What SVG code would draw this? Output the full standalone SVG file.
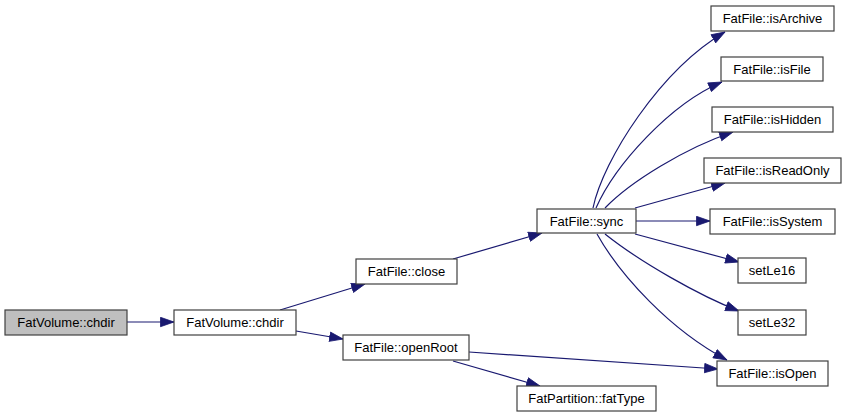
<svg xmlns="http://www.w3.org/2000/svg" width="847" height="417" viewBox="0 0 847 417">
<defs>
<style>
.n rect{fill:#fff;stroke:#404040;stroke-width:1.2}
.n.cur rect{fill:#bfbfbf}
.n text{font-family:"Liberation Sans",Arial,sans-serif;font-size:13px;fill:#000;text-anchor:middle}
.e path{fill:none;stroke:#191970;stroke-width:1.2;marker-end:url(#ah)}
</style>
<marker id="ah" markerUnits="userSpaceOnUse" markerWidth="15" markerHeight="11" refX="14" refY="5.5" orient="auto" viewBox="0 0 15 11">
<polygon points="0.5,0.8 14,5.5 0.5,10.2" fill="#191970" stroke="#191970" stroke-width="0.8"/>
</marker>
</defs>
<rect width="847" height="417" fill="#fff"/>
<g id="edges" class="e">
<path d="M127,322 L174,322"/>
<path d="M280,310 L365,284"/>
<path d="M296,331 L343,339"/>
<path d="M453,259 L542,233"/>
<path d="M469,352 L718,369"/>
<path d="M453,361 L540,386"/>
<path d="M593,208 C603,160 660,70 725,32"/>
<path d="M596,208 C615,165 670,104 722,82"/>
<path d="M605,208 C630,182 685,148 733,132"/>
<path d="M635,208 L725,183"/>
<path d="M636,221 L710,221"/>
<path d="M635,234 L739,262"/>
<path d="M605,234 C640,262 700,296 739,311"/>
<path d="M597,234 C620,275 670,330 727,360"/>
</g>
<g id="n_src" class="n cur"><rect x="5" y="310" width="122" height="25"/><text x="66" y="327">FatVolume::chdir</text></g>
<g id="n_chdir" class="n"><rect x="174" y="310" width="122" height="25"/><text x="235" y="327">FatVolume::chdir</text></g>
<g id="n_close" class="n"><rect x="356" y="259" width="101" height="25"/><text x="406.5" y="276">FatFile::close</text></g>
<g id="n_openRoot" class="n"><rect x="343" y="335" width="126" height="25"/><text x="406" y="352">FatFile::openRoot</text></g>
<g id="n_sync" class="n"><rect x="537" y="209" width="99" height="24"/><text x="586.5" y="226">FatFile::sync</text></g>
<g id="n_fatType" class="n"><rect x="517" y="386" width="139" height="25"/><text x="586.5" y="403">FatPartition::fatType</text></g>
<g id="n_isArchive" class="n"><rect x="711" y="6" width="123" height="25"/><text x="772.5" y="23">FatFile::isArchive</text></g>
<g id="n_isFile" class="n"><rect x="721" y="57" width="102" height="24"/><text x="772" y="74">FatFile::isFile</text></g>
<g id="n_isHidden" class="n"><rect x="712" y="107" width="121" height="25"/><text x="772.5" y="124">FatFile::isHidden</text></g>
<g id="n_isReadOnly" class="n"><rect x="704" y="158" width="137" height="25"/><text x="772.5" y="175">FatFile::isReadOnly</text></g>
<g id="n_isSystem" class="n"><rect x="710" y="209" width="125" height="25"/><text x="772.5" y="226">FatFile::isSystem</text></g>
<g id="n_setLe16" class="n"><rect x="738" y="258" width="68" height="25"/><text x="772" y="275">setLe16</text></g>
<g id="n_setLe32" class="n"><rect x="738" y="310" width="68" height="25"/><text x="772" y="327">setLe32</text></g>
<g id="n_isOpen" class="n"><rect x="717" y="361" width="111" height="25"/><text x="772.5" y="378">FatFile::isOpen</text></g>
</svg>
